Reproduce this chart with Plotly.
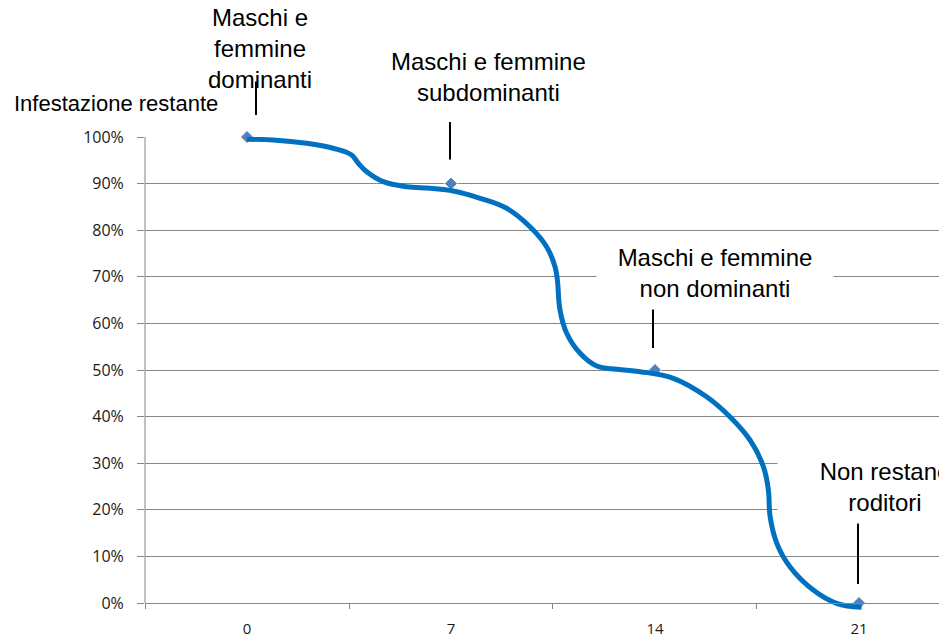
import plotly.graph_objects as go

# ---- data ----
days = [0, 7, 14, 21]
day_labels = ["0", "7", "14", "21"]
remaining = [1.00, 0.90, 0.50, 0.00]
stage_labels = [
    "Maschi e<br>femmine<br>dominanti",
    "Maschi e femmine<br>subdominanti",
    "Maschi e femmine<br>non dominanti",
    "Non restano<br>roditori",
]

# smoothed trend curve (days, fraction remaining)
curve_days = [0.0, 0.90, 2.05, 2.96, 3.59, 3.82, 4.11, 4.68, 5.48, 6.28, 7.08, 8.00,
              8.91, 9.71, 10.28, 10.57, 10.65, 10.74, 10.97, 11.43, 12.0, 12.69,
              13.49, 14.63, 15.77, 16.57, 17.26, 17.72, 17.89, 17.95, 18.18, 18.63,
              19.43, 20.23, 21.09]
curve_vals = [0.995, 0.9936, 0.9865, 0.9758, 0.9614, 0.9436, 0.9255, 0.9041, 0.8933,
              0.8899, 0.8841, 0.8685, 0.8470, 0.8075, 0.7646, 0.7217, 0.6931, 0.6288,
              0.5788, 0.5358, 0.5086, 0.5015, 0.4964, 0.4822, 0.4427, 0.3998, 0.3498,
              0.2925, 0.2425, 0.1852, 0.1281, 0.0779, 0.0279, -0.0006, -0.0092]

y_ticks = [i / 10 for i in range(11)]
y_title = "Infestazione restante"

GRID = "#868686"
LABEL_FONT = "Liberation Sans, Arial, sans-serif"
TICK_FONT = "Open Sans, sans-serif"

fig = go.Figure()
fig.add_trace(go.Scatter(
    x=days, y=remaining, mode="markers", cliponaxis=False,
    marker=dict(symbol="diamond", size=10, color="#4F81BD",
                line=dict(color="white", width=1)),
    showlegend=False, hoverinfo="skip"))
fig.add_trace(go.Scatter(
    x=curve_days, y=curve_vals, mode="lines",
    line=dict(color="#0070C0", width=5, shape="spline", smoothing=1.1),
    showlegend=False, hoverinfo="skip"))

PLOT_H = 475
y_lo = -9 / 466
fig.update_layout(
    width=939, height=632,
    margin=dict(l=137, r=0, t=129, b=28, autoexpand=False),
    paper_bgcolor="white", plot_bgcolor="white",
    xaxis=dict(range=[-3.5, 24.02], tickvals=days, ticktext=day_labels,
               ticks="", showgrid=False, zeroline=False,
               showline=True, linecolor=GRID, linewidth=1,
               anchor="free", position=9 / PLOT_H,
               ticklabelstandoff=12,
               tickfont=dict(family=TICK_FONT, size=15, color="#1a1a1a"),
               minor=dict(tickvals=[-3.5, 3.5, 10.5, 17.5], ticks="outside",
                          ticklen=5, tickcolor=GRID, tickwidth=1, showgrid=False)),
    yaxis=dict(range=[y_lo, 1.0], tickvals=y_ticks, tickformat=".0%",
               showgrid=True, gridcolor=GRID, gridwidth=1, zeroline=False,
               showline=False, ticks="outside", ticklen=7, tickcolor=GRID,
               ticklabelstandoff=10,
               tickfont=dict(family=TICK_FONT, size=16, color="#1a1a1a")),
)

# y axis line from 0% to 100%
fig.add_shape(type="line", xref="paper", yref="y", x0=0, x1=0, y0=0, y1=1,
              line=dict(color=GRID, width=1), layer="above")

# axis title (horizontal, above the axis)
fig.add_annotation(text=y_title, xref="paper", yref="paper",
                   x=(12 - 145) / 802, y=1 + (137 - 103) / PLOT_H,
                   xanchor="left", yanchor="middle", showarrow=False,
                   font=dict(family=LABEL_FONT, size=22, color="black"))

# stage labels
label_shift = [(13, 89), (37, 107), (60, 97), (26.5, 116)]
label_bg = [None, None, "white", "white"]
label_width = [None, None, 232, 210]
for d, v, t, (sx, sy), bg, w in zip(days, remaining, stage_labels, label_shift,
                                      label_bg, label_width):
    kw = {}
    if bg:
        kw["bgcolor"] = bg
        kw["width"] = w
        kw["borderpad"] = 2
    fig.add_annotation(x=d, y=v, xref="x", yref="y", text=t, showarrow=False,
                       xshift=sx, yshift=sy, xanchor="center", yanchor="middle",
                       align="center",
                       font=dict(family=LABEL_FONT, size=24, color="black"), **kw)

# leader lines
leaders = [(9, 22, -57), (-1, 24, -63), (-2, 22, -62), (-1, 19, -81)]
for d, v, (sx, so, ay) in zip(days, remaining, leaders):
    fig.add_annotation(x=d, y=v, xref="x", yref="y", text="", showarrow=True,
                       arrowhead=0, arrowwidth=2, arrowcolor="black",
                       ax=0, ay=ay, standoff=so, xshift=sx)

fig.write_html("out.html")
